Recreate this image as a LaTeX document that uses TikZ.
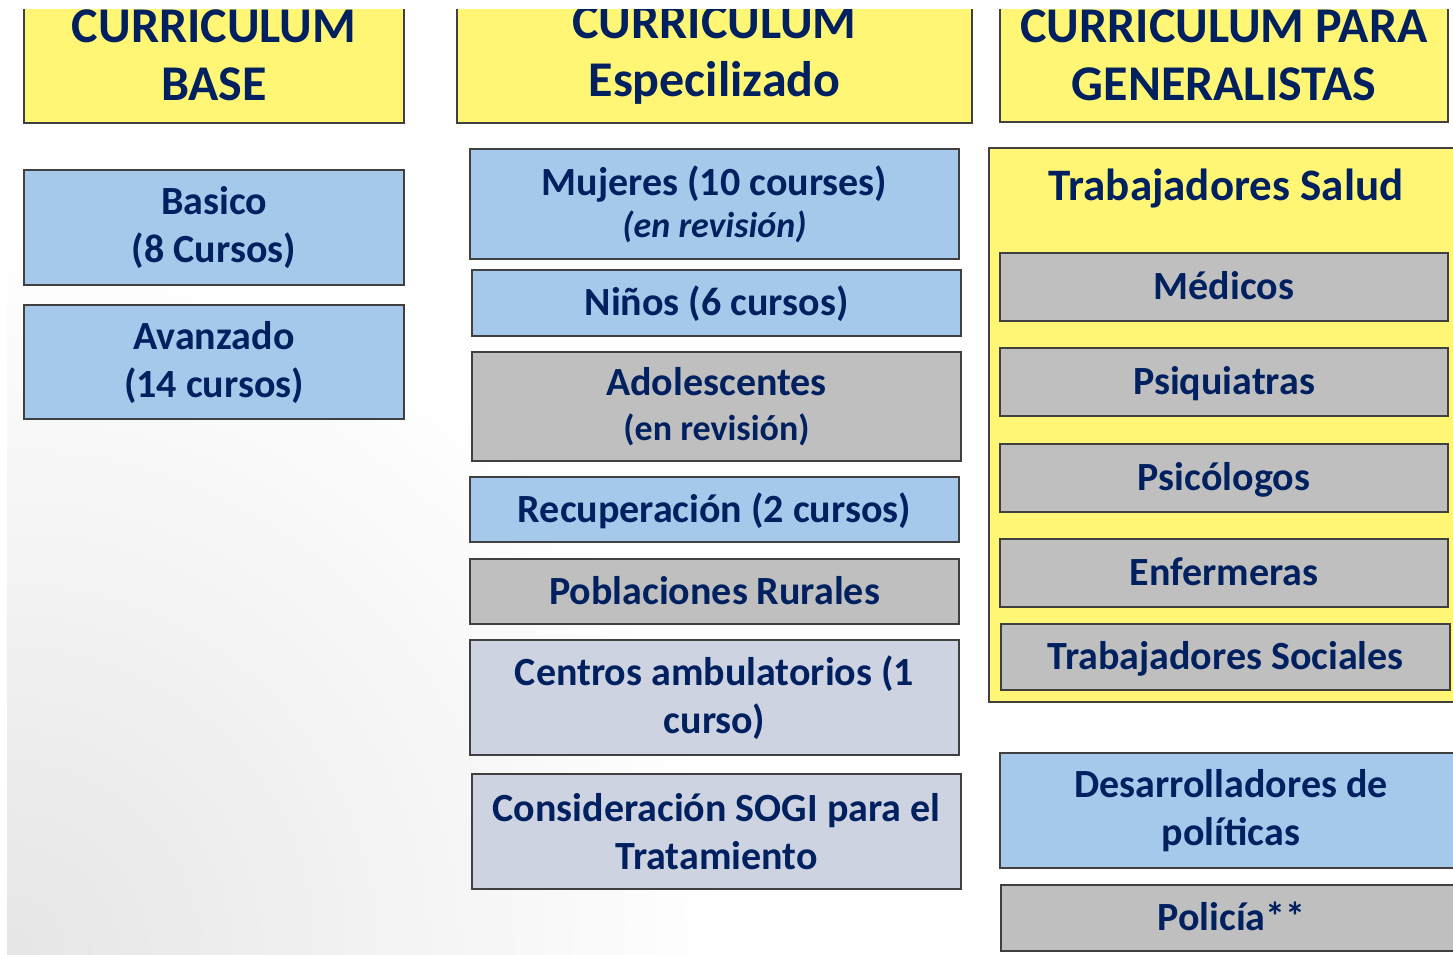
\documentclass[tikz,border=0pt]{standalone}
\usepackage{fontspec}
\setmainfont{Carlito}
\definecolor{navy}{RGB}{0,32,96}
\definecolor{headyellow}{RGB}{255,246,117}
\definecolor{courseblue}{RGB}{166,200,234}
\definecolor{coursegray}{RGB}{191,191,191}
\definecolor{coursepale}{RGB}{205,211,224}
\definecolor{edge}{RGB}{64,64,64}
\tikzset{
  box/.style={draw=edge, line width=1.5pt, rectangle, inner sep=0pt,
    text=navy, align=center, font=\fontsize{40}{48}\selectfont\bfseries},
  onerow/.style={text height=40pt, text depth=15pt},
  headbox/.style={box, fill=headyellow, font=\fontsize{50}{58}\selectfont\bfseries},
  bluebox/.style={box, fill=courseblue},
  graybox/.style={box, fill=coursegray},
  palebox/.style={box, fill=coursepale},
}
\begin{document}
\begin{tikzpicture}[x=1pt, y=-1pt]
\useasboundingbox (0,0) rectangle (1453,954);
\clip (0,0) rectangle (1453,954);
% slide background
\fill[white] (0,0) rectangle (1453,954);
\begin{scope}
\clip (7,9) rectangle (1453,954);
\shade[inner color=black!10, outer color=white] (7,954) circle (720);
\end{scope}
% column 1
\node[headbox, minimum width=380pt, minimum height=135pt] (hbase) at (214,55.5) {CURRICULUM\\BASE};
\node[bluebox, minimum width=380pt, minimum height=115pt] (basico) at (214,227.5) {Basico\\(8 Cursos)};
\node[bluebox, minimum width=380pt, minimum height=114pt] (avanzado) at (214,362) {Avanzado\\(14 cursos)};
% column 2
\node[headbox, minimum width=515pt, minimum height=135pt] (hesp) at (714.5,55.5) {CURRICULUM\\Especilizado};
\node[bluebox, minimum width=489pt, minimum height=110pt] (mujeres) at (714.5,204)
  {Mujeres (10 courses)\\[-6pt]{\fontsize{36}{42}\selectfont\itshape (en revisión)}};
\node[bluebox, onerow, minimum width=489pt, minimum height=66pt] (ninos) at (716.5,303) {Niños (6 cursos)};
\node[graybox, minimum width=489pt, minimum height=109pt] (adolesc) at (716.5,406.5)
  {Adolescentes\\[-3pt]{\fontsize{36}{42}\selectfont (en revisión)}};
\node[bluebox, onerow, minimum width=489pt, minimum height=65pt] (recup) at (714.5,509.5) {Recuperación (2 cursos)};
\node[graybox, onerow, minimum width=489pt, minimum height=65pt] (rurales) at (714.5,591.5) {Poblaciones Rurales};
\node[palebox, minimum width=489pt, minimum height=115pt] (centros) at (714.5,697.5) {Centros ambulatorios (1\\curso)};
\node[palebox, minimum width=489pt, minimum height=115pt] (sogi) at (716.5,831.5) {Consideración SOGI para el\\Tratamiento};
% column 3
\node[headbox, minimum width=448pt, minimum height=134pt] (hgen) at (1224,55) {CURRICULUM PARA\\GENERALISTAS};
\node[box, fill=headyellow, minimum width=481pt, minimum height=554pt] (salud) at (1229.5,425) {};
\node[text=navy, font=\fontsize{45}{54}\selectfont\bfseries, anchor=base] (saludtitle) at (1226,200) {Trabajadores Salud};
\node[graybox, onerow, minimum width=448pt, minimum height=68pt] (medicos) at (1224,287) {Médicos};
\node[graybox, onerow, minimum width=448pt, minimum height=68pt] (psiq) at (1224,382) {Psiquiatras};
\node[graybox, onerow, minimum width=448pt, minimum height=68pt] (psico) at (1224,478) {Psicólogos};
\node[graybox, onerow, minimum width=448pt, minimum height=68pt] (enferm) at (1224,573) {Enfermeras};
\node[graybox, onerow, minimum width=449pt, minimum height=66pt] (sociales) at (1225.5,657) {Trabajadores Sociales};
\node[bluebox, minimum width=462pt, minimum height=115pt] (politicas) at (1231,810.5) {Desarrolladores de\\políticas};
\node[graybox, onerow, minimum width=461pt, minimum height=66pt] (policia) at (1231.5,918) {Policía**};
% strips outside the slide
\fill[white] (0,0) rectangle (1453,9);
\fill[white] (0,0) rectangle (7,954);
\end{tikzpicture}
\end{document}
